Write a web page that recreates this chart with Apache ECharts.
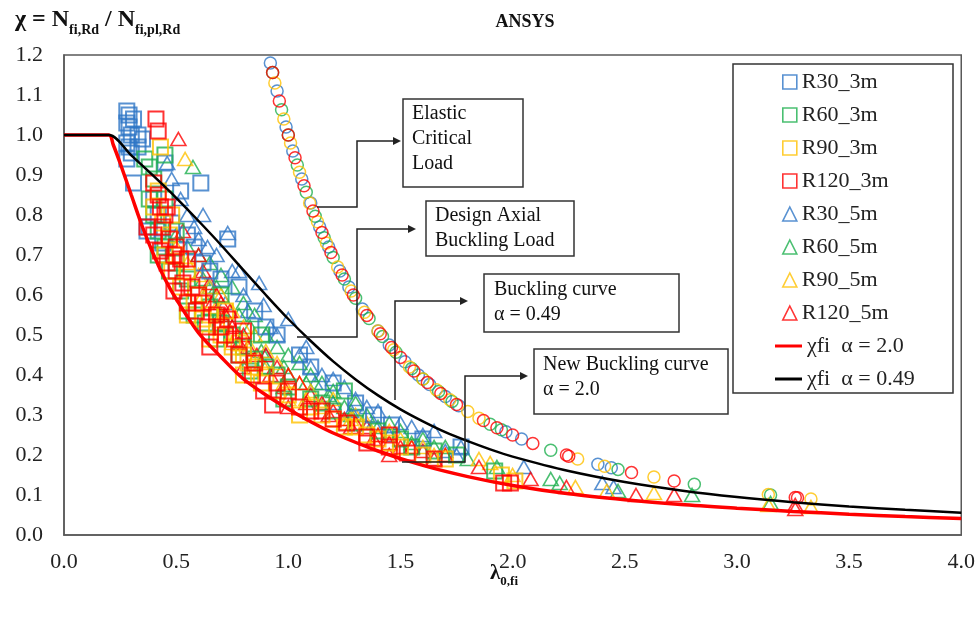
<!DOCTYPE html>
<html><head><meta charset="utf-8">
<script src="https://cdn.jsdelivr.net/npm/echarts@6/dist/echarts.min.js"></script>
<style>html,body{margin:0;padding:0;background:#fff}#c{width:978px;height:617px}</style>
</head><body><div id="c"></div>
<script>
// ---- data (λ0,fi , χ) ----
const xTicks = ['0.0','0.5','1.0','1.5','2.0','2.5','3.0','3.5','4.0'];
const yTicks = ['0.0','0.1','0.2','0.3','0.4','0.5','0.6','0.7','0.8','0.9','1.0','1.1','1.2'];
const legendPoints = ['R30_3m','R60_3m','R90_3m','R120_3m','R30_5m','R60_5m','R90_5m','R120_5m'];
const legendCurves = ['χfi  α = 2.0','χfi  α = 0.49'];

const R30_3m = [[0.28,1.06],[0.29,1.05],[0.28,1.03],[0.29,1.02],[0.30,1.00],[0.28,0.98],[0.29,0.97],[0.30,0.955],[0.28,0.94],[0.31,1.04],[0.33,1.00],[0.35,0.99],[0.33,0.97],[0.31,0.88],[0.61,0.88],[0.38,0.77],[0.45,0.93],[0.52,0.86],[0.73,0.74],[0.37,0.76],[0.44,0.73],[0.65,0.66],[0.85,0.56],[0.95,0.50],[1.05,0.45],[1.2,0.38],[1.3,0.33],[1.46,0.275],[1.77,0.22],[0.58,0.72],[0.78,0.62],
  [0.40,0.84],[0.42,0.80],[0.48,0.78],[0.55,0.75],[0.62,0.68],[0.70,0.64],[0.90,0.52],[1.10,0.42],[1.38,0.30],[1.60,0.24]];
const R60_3m = [[0.36,0.94],[0.38,0.92],[0.40,0.89],[0.45,0.95],[0.38,0.84],[0.40,0.80],[0.42,0.76],[0.45,0.72],[0.50,0.68],[0.55,0.64],[0.60,0.60],[0.65,0.57],[0.70,0.53],[0.75,0.50],[0.80,0.47],[0.85,0.44],[0.90,0.42],[0.95,0.40],[1.00,0.37],[1.10,0.34],[1.20,0.31],[1.30,0.28],[1.40,0.26],[1.50,0.24],[1.65,0.21],[1.75,0.20],[1.92,0.16],[0.55,0.56],[0.70,0.60],[0.88,0.50],[1.25,0.36],
  [0.42,0.70],[0.47,0.66],[0.52,0.61],[0.58,0.55],[0.63,0.53],[0.68,0.49],[0.78,0.45],[0.83,0.41],[0.98,0.34],[1.15,0.33],[0.45,0.84],[0.50,0.76],[1.55,0.22]];
const R90_3m = [[0.43,0.97],[0.40,0.82],[0.44,0.78],[0.50,0.70],[0.55,0.66],[0.60,0.60],[0.65,0.55],[0.70,0.50],[0.75,0.47],[0.80,0.45],[0.85,0.42],[0.90,0.40],[1.00,0.35],[1.10,0.32],[1.20,0.29],[1.30,0.27],[1.40,0.24],[1.50,0.22],[1.60,0.20],[1.70,0.19],[1.95,0.15],[2.01,0.135],[0.55,0.55],[0.65,0.49],[0.80,0.40],[0.47,0.75],[0.72,0.56],[1.05,0.30],[1.35,0.25],
  [0.45,0.70],[0.48,0.66],[0.52,0.62],[0.58,0.58],[0.62,0.54],[0.68,0.52],[0.78,0.48],[0.82,0.43],[0.88,0.38],[0.95,0.36],[1.15,0.30],[1.25,0.27],[1.45,0.23],[0.42,0.86],[0.48,0.80]];
const R120_3m = [[0.41,1.04],[0.42,1.01],[0.37,0.77],[0.40,0.75],[0.40,0.88],[0.42,0.85],[0.43,0.82],[0.45,0.80],[0.44,0.77],[0.47,0.74],[0.49,0.70],[0.52,0.69],[0.55,0.69],[0.49,0.61],[0.55,0.58],[0.59,0.56],[0.64,0.52],[0.65,0.47],[0.72,0.50],[0.73,0.54],[0.80,0.51],[0.84,0.40],[0.89,0.36],[0.93,0.325],[1.05,0.32],[1.00,0.36],[1.10,0.31],[1.20,0.29],[1.26,0.28],[1.35,0.245],[1.35,0.23],[1.45,0.22],[1.53,0.205],[1.65,0.19],[1.96,0.13],[1.99,0.13],
  [0.43,0.71],[0.46,0.68],[0.50,0.66],[0.53,0.63],[0.57,0.62],[0.60,0.60],[0.62,0.58],[0.68,0.55],[0.70,0.52],[0.76,0.49],[0.78,0.45],[0.85,0.43],[0.95,0.38],[1.15,0.31],[1.45,0.25],[0.46,0.82],[0.50,0.72]];
const R30_5m = [[0.46,0.93],[0.48,0.89],[0.52,0.84],[0.55,0.80],[0.58,0.77],[0.60,0.74],[0.64,0.72],[0.73,0.755],[0.75,0.66],[0.80,0.60],[0.87,0.63],[0.89,0.575],[0.95,0.50],[1.00,0.54],[1.05,0.45],[1.10,0.42],[1.15,0.40],[1.20,0.39],[1.25,0.37],[1.30,0.34],[1.35,0.32],[1.40,0.31],[1.50,0.28],[1.55,0.27],[1.65,0.26],[1.75,0.20],[1.77,0.22],[2.05,0.17],[2.40,0.13],[2.45,0.12],[0.65,0.62],[0.72,0.58],[0.90,0.45],[1.00,0.40],[1.20,0.33],[1.45,0.25],
  [0.62,0.80],[0.68,0.70],[0.78,0.66],[0.82,0.56],[0.92,0.52],[1.08,0.47],[1.12,0.38],[1.28,0.31],[1.38,0.28],[1.60,0.25],[1.70,0.21]];
const R60_5m = [[0.575,0.92],[0.50,0.75],[0.55,0.72],[0.60,0.70],[0.65,0.68],[0.70,0.65],[0.75,0.62],[0.80,0.58],[0.85,0.55],[0.90,0.50],[0.95,0.47],[1.00,0.45],[1.05,0.43],[1.10,0.40],[1.15,0.38],[1.20,0.36],[1.30,0.33],[1.35,0.30],[1.45,0.28],[1.50,0.26],[1.60,0.24],[1.70,0.22],[1.80,0.19],[1.93,0.17],[2.17,0.14],[2.21,0.13],[2.47,0.11],[2.80,0.10],[3.15,0.08],[0.70,0.55],[0.90,0.42],[1.25,0.32],
  [0.62,0.64],[0.68,0.62],[0.78,0.55],[0.83,0.52],[0.88,0.46],[0.98,0.42],[1.08,0.38],[1.18,0.35],[1.28,0.30],[1.40,0.27],[1.55,0.23],[1.65,0.22]];
const R90_5m = [[0.54,0.94],[0.50,0.72],[0.55,0.68],[0.60,0.65],[0.65,0.62],[0.70,0.60],[0.75,0.56],[0.80,0.52],[0.85,0.50],[0.90,0.46],[0.95,0.43],[1.00,0.40],[1.05,0.38],[1.10,0.36],[1.20,0.34],[1.30,0.30],[1.35,0.28],[1.45,0.26],[1.50,0.24],[1.60,0.22],[1.70,0.20],[1.85,0.19],[1.90,0.18],[2.00,0.15],[2.28,0.12],[2.42,0.11],[2.63,0.105],[3.14,0.075],[3.33,0.07],[0.75,0.48],[1.00,0.34],[1.25,0.28],
  [0.62,0.60],[0.68,0.57],[0.72,0.53],[0.83,0.47],[0.88,0.43],[0.98,0.38],[1.08,0.34],[1.15,0.32],[1.28,0.29],[1.40,0.25],[1.55,0.22],[1.65,0.20]];
const R120_5m = [[0.51,0.99],[0.53,0.76],[0.60,0.70],[0.65,0.63],[0.68,0.60],[0.70,0.58],[0.72,0.55],[0.75,0.52],[0.80,0.50],[0.82,0.47],[0.90,0.45],[0.95,0.42],[1.00,0.40],[1.05,0.38],[1.10,0.35],[1.15,0.33],[1.20,0.31],[1.25,0.29],[1.30,0.28],[1.35,0.27],[1.40,0.25],[1.45,0.23],[1.55,0.22],[1.60,0.21],[1.70,0.20],[1.85,0.17],[2.08,0.14],[2.24,0.12],[2.55,0.10],[2.72,0.10],[3.26,0.075],[3.26,0.065],[0.80,0.42],[1.00,0.32],[1.45,0.20],
  [0.62,0.66],[0.66,0.58],[0.74,0.56],[0.78,0.48],[0.86,0.45],[0.92,0.40],[0.98,0.37],[1.08,0.33],[1.18,0.30],[1.28,0.27],[1.38,0.24],[1.50,0.22],[1.65,0.19]];

// elastic critical load points (circles, not in legend)
const EC_R30 = [[0.92,1.18],[0.95,1.11],[0.99,1.02],[1.02,0.96],[1.06,0.89],[1.10,0.83],[1.14,0.77],[1.18,0.72],[1.23,0.66],[1.27,0.62],[1.33,0.565],[1.40,0.51],[1.45,0.475],[1.52,0.433],[1.58,0.40],[1.63,0.376],[1.70,0.346],[1.76,0.323],[1.97,0.258],[2.04,0.24],[2.38,0.177],[2.44,0.168]];
const EC_R60 = [[0.93,1.156],[0.97,1.063],[1.00,1.00],[1.04,0.925],[1.08,0.857],[1.12,0.797],[1.16,0.743],[1.20,0.694],[1.25,0.64],[1.30,0.592],[1.36,0.541],[1.42,0.496],[1.48,0.457],[1.55,0.416],[1.60,0.39],[1.67,0.359],[1.73,0.334],[1.90,0.277],[1.95,0.263],[2.17,0.212],[2.47,0.164],[2.81,0.127],[3.15,0.10]];
const EC_R90 = [[0.94,1.13],[0.98,1.04],[1.01,0.98],[1.05,0.907],[1.095,0.83],[1.13,0.783],[1.17,0.73],[1.22,0.67],[1.28,0.61],[1.34,0.557],[1.40,0.51],[1.47,0.463],[1.54,0.42],[1.60,0.39],[1.66,0.363],[1.72,0.338],[1.80,0.309],[1.85,0.292],[2.29,0.19],[2.41,0.172],[2.63,0.145],[3.14,0.101],[3.33,0.09]];
const EC_R120 = [[0.93,1.156],[0.96,1.085],[1.00,1.00],[1.03,0.943],[1.07,0.873],[1.11,0.81],[1.15,0.756],[1.19,0.706],[1.24,0.65],[1.29,0.60],[1.35,0.549],[1.41,0.503],[1.46,0.469],[1.50,0.444],[1.56,0.41],[1.62,0.381],[1.68,0.354],[1.75,0.326],[1.87,0.286],[1.93,0.268],[2.00,0.25],[2.09,0.229],[2.24,0.20],[2.25,0.197],[2.53,0.156],[2.72,0.135],[3.26,0.094],[3.27,0.093]];

// buckling curves
const curveA20 = [[0,1],[0.2,1],[0.22,0.975],[0.25,0.93],[0.3,0.85],[0.35,0.77],[0.4,0.70],[0.45,0.64],[0.5,0.59],[0.6,0.505],[0.7,0.445],[0.8,0.39],[0.9,0.35],[1.0,0.315],[1.1,0.283],[1.2,0.255],[1.4,0.21],[1.6,0.174],[1.8,0.146],[2.0,0.124],[2.25,0.103],[2.5,0.088],[2.75,0.076],[3.0,0.067],[3.25,0.059],[3.5,0.052],[3.75,0.046],[4.0,0.041]];
const curveA049 = [[0,1],[0.2,1],[0.3,0.949],[0.4,0.897],[0.5,0.843],[0.6,0.785],[0.7,0.725],[0.8,0.662],[0.9,0.600],[1.0,0.540],[1.1,0.485],[1.2,0.434],[1.3,0.389],[1.4,0.349],[1.5,0.314],[1.6,0.284],[1.7,0.257],[1.8,0.2345],[1.9,0.214],[2.0,0.196],[2.25,0.160],[2.5,0.1325],[2.75,0.1115],[3.0,0.095],[3.25,0.082],[3.5,0.0715],[3.75,0.063],[4.0,0.0556]];

// ---- chart ----
const FONT = "'Liberation Serif','Times New Roman',serif";
const C = {blue:'#2E75C6', green:'#1DAF4E', yellow:'#FFC000', red:'#FF0000'};
const chart = echarts.init(document.getElementById('c'), null, {renderer:'canvas'});

function sq(name, data, col){ return {name, type:'scatter', data, symbol:'rect', symbolSize:15, z:3,
  itemStyle:{color:'rgba(255,255,255,0)', borderColor:col, borderWidth:2}}; }
function tri(name, data, col){ return {name, type:'scatter', data, symbol:'triangle', symbolSize:[15,13], z:2,
  itemStyle:{color:'rgba(255,255,255,0)', borderColor:col, borderWidth:1.6}}; }
function circ(name, data, col){ return {name, type:'scatter', data, symbol:'circle', symbolSize:12, z:2,
  itemStyle:{color:'rgba(255,255,255,0)', borderColor:col, borderWidth:1.5}}; }

const series = [
  tri('R30_5m', R30_5m, C.blue), tri('R60_5m', R60_5m, C.green), tri('R90_5m', R90_5m, C.yellow), tri('R120_5m', R120_5m, C.red),
  sq('R30_3m', R30_3m, C.blue), sq('R60_3m', R60_3m, C.green), sq('R90_3m', R90_3m, C.yellow), sq('R120_3m', R120_3m, C.red),
  circ('EC R30', EC_R30, C.blue), circ('EC R60', EC_R60, C.green), circ('EC R90', EC_R90, C.yellow), circ('EC R120', EC_R120, C.red),
  {name:legendCurves[0], type:'line', data:curveA20, symbol:'none', smooth:0.3, z:4, lineStyle:{color:'#FF0000', width:3.5}, itemStyle:{color:'#FF0000'}},
  {name:legendCurves[1], type:'line', data:curveA049, symbol:'none', smooth:0.3, z:4, lineStyle:{color:'#000', width:2.5}, itemStyle:{color:'#000'}}
];

const box = (x,y,w,h)=>({type:'rect', shape:{x,y,width:w,height:h}, style:{fill:'#fff', stroke:'#333', lineWidth:1.5}, z:10});
const txt = (x,y,t)=>({type:'text', x, y, style:{text:t, font:"20px "+FONT, fill:'#111', lineHeight:25, textVerticalAlign:'top'}, z:11});
const conn = (pts)=>({type:'polyline', shape:{points:pts}, style:{stroke:'#222', lineWidth:1.5, fill:null}, z:9});
const arrow = (x,y)=>({type:'polygon', shape:{points:[[x-8,y-4],[x-8,y+4],[x,y]]}, style:{fill:'#222'}, z:9});
const legTxt = {fontSize:22, fontFamily:FONT, color:'#222'};

const option = {
  animation:false,
  backgroundColor:'#fff',
  grid:{left:64, right:16, top:55, bottom:82, show:true, borderColor:'#595959', borderWidth:1.5},
  xAxis:{type:'value', min:0, max:4, interval:0.5,
    axisLine:{show:true, lineStyle:{color:'#595959', width:1.5}}, axisTick:{show:false}, splitLine:{show:false},
    axisLabel:{margin:16, fontSize:22, fontFamily:FONT, color:'#222', formatter:(v)=>xTicks[Math.round(v/0.5)]}},
  yAxis:{type:'value', min:0, max:1.2, interval:0.1,
    axisLine:{show:true, lineStyle:{color:'#595959', width:1.5}}, axisTick:{show:false}, splitLine:{show:false},
    axisLabel:{margin:21, fontSize:22, fontFamily:FONT, color:'#222', formatter:(v)=>yTicks[Math.round(v/0.1)]}},
  legend:[
    {data:legendPoints, orient:'vertical', left:777, top:66, itemWidth:14, itemHeight:14, itemGap:11, itemTextGap:8,
      textStyle:legTxt, itemStyle:{borderWidth:1.6}},
    {data:legendCurves.map(n=>({name:n, icon:'rect'})), orient:'vertical', left:770, top:330, itemWidth:27, itemHeight:3, itemGap:11, itemTextGap:8,
      textStyle:legTxt}
  ],
  series,
  graphic:[
    {type:'rect', shape:{x:733, y:64, width:220, height:329}, style:{fill:'#fff', stroke:'#333', lineWidth:1.5}, z:-1, silent:true},
    {type:'text', x:525, y:22, style:{text:'ANSYS', font:"bold 18px "+FONT, fill:'#111', textAlign:'center', textVerticalAlign:'middle'}},
    {type:'text', x:15, y:37, style:{text:'{b|χ = N}{s|fi,Rd}{b| / N}{s|fi,pl,Rd}', textVerticalAlign:'bottom',
      rich:{b:{font:"bold 24px "+FONT, fill:'#111', verticalAlign:'bottom', padding:[0,0,5,0]}, s:{font:"bold 14px "+FONT, fill:'#111', verticalAlign:'bottom'}}}},
    {type:'text', x:490, y:588, style:{text:'{b|λ}{s|0,fi}', textVerticalAlign:'bottom',
      rich:{b:{font:"bold 21px "+FONT, fill:'#111', verticalAlign:'bottom', padding:[0,0,4,0]}, s:{font:"bold 13px "+FONT, fill:'#111', verticalAlign:'bottom'}}}},
    conn([[317,207],[357,207],[357,141],[395,141]]), arrow(401,141),
    box(403,99,120,88), txt(412,101,'Elastic\nCritical\nLoad'),
    conn([[297,337],[357,337],[357,229],[410,229]]), arrow(416,229),
    box(426,201,148,55), txt(435,203,'Design Axial\nBuckling Load'),
    conn([[395,400],[395,301],[462,301]]), arrow(468,301),
    box(484,274,195,58), txt(494,277,'Buckling curve\nα = 0.49'),
    conn([[402,462],[465,462],[465,376],[522,376]]), arrow(528,376),
    box(534,349,194,65), txt(543,352,'New Buckling curve\nα = 2.0')
  ]
};
chart.setOption(option);
</script></body></html>
